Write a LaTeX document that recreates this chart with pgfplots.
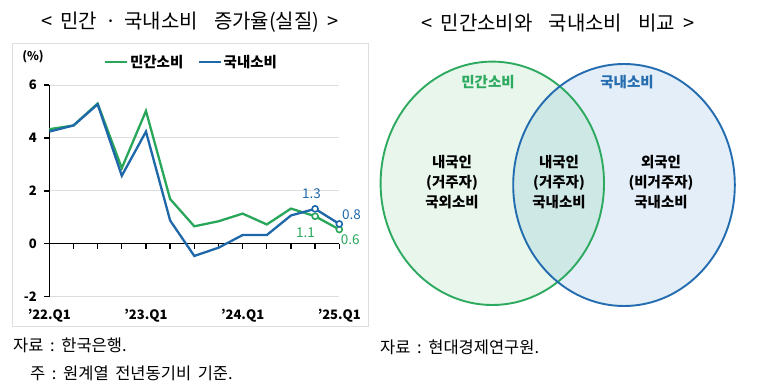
\documentclass[border=0pt]{standalone}
\usepackage{pgfplots}
\pgfplotsset{compat=1.18}
\usepackage{fontspec}
\setmainfont{Noto Sans CJK KR}
\definecolor{cgreen}{RGB}{40,166,90}
\definecolor{cblue}{RGB}{30,104,170}
\definecolor{vgreen}{RGB}{45,170,95}
\definecolor{vblue}{RGB}{35,108,175}
\definecolor{fleft}{RGB}{232,246,235}
\definecolor{fright}{RGB}{227,238,249}
\definecolor{fmid}{RGB}{206,232,230}
\definecolor{gridc}{RGB}{222,222,222}
\newcommand{\wsp}{\hspace{0.4em}}
\begin{document}
\begin{tikzpicture}[x=1pt,y=1pt]
\useasboundingbox (0,0) rectangle (760,388);
% titles and notes
\node[font=\fontsize{20}{22}\selectfont] at (190,366) {<\wsp 민간\wsp ·\wsp 국내소비\wsp\wsp 증가율(실질)\wsp >};
\node[font=\fontsize{20}{22}\selectfont] at (558,365) {<\wsp 민간소비와\wsp\wsp 국내소비\wsp\wsp 비교\wsp >};
\node[anchor=west,font=\fontsize{16.5}{18}\selectfont,inner sep=0pt] at (13,43) {자료\wsp :\wsp 한국은행.};
\node[anchor=west,font=\fontsize{16.5}{18}\selectfont,inner sep=0pt] at (30,15) {주\wsp :\wsp 원계열\wsp 전년동기비\wsp 기준.};
\node[anchor=west,font=\fontsize{16.5}{18}\selectfont,inner sep=0pt] at (380,41) {자료\wsp :\wsp 현대경제연구원.};
% frame
\draw[gridc,line width=1pt] (12.7,344) rectangle (368,61);
\node[font=\bfseries\fontsize{12}{14}\selectfont] at (33,331) {(\%)};
\begin{axis}[
  at={(49.3pt,91.3pt)}, anchor=south west,
  scale only axis, width=290pt, height=211.7pt,
  xmin=0, xmax=12, ymin=-2, ymax=6,
  axis y line*=left, axis x line*=bottom,
  x axis line style={draw=none},
  y axis line style={line width=1.3pt, black},
  xtick={0,4,8,12},
  xticklabels={'22.Q1,'23.Q1,'24.Q1,'25.Q1},
  major x tick style={draw=none},
  ytick={-2,0,2,4,6},
  ymajorgrids, grid style={gridc, line width=1pt},
  major y tick style={line width=1.3pt, black},
  tick align=outside, major tick length=5pt,
  /pgf/number format/assume math mode=true,
  ticklabel style={font=\bfseries\fontsize{13}{15}\selectfont},
  yticklabel style={xshift=-4pt},
  xticklabel style={yshift=-4pt},
  clip=false,
  legend style={draw=none, fill=none, at={(0.49,1.109)}, anchor=center,
    legend columns=2, font=\bfseries\fontsize{14.5}{16}\selectfont,
    /tikz/every even column/.append style={column sep=12pt}},
  legend image code/.code={\draw[#1,mark=none] (0pt,0pt) -- (22pt,0pt);},
]
\draw[black, line width=1.3pt] (axis cs:0,0) -- (axis cs:12,0);
\pgfplotsinvokeforeach{0,...,12}{\draw[black,line width=1.3pt] (axis cs:#1,0) -- ++(0pt,-5pt);}
\addplot[cgreen, line width=2.3pt, mark=*, mark indices={12,13}, mark size=3pt,
  mark options={fill=white, line width=1.6pt}] coordinates {
(0,4.33) (1,4.47) (2,5.30) (3,2.86) (4,5.02) (5,1.69) (6,0.66) (7,0.85) (8,1.14) (9,0.73) (10,1.33) (11,1.04) (12,0.54)};
\addlegendentry{민간소비}
\addplot[cblue, line width=2.3pt, mark=*, mark indices={12,13}, mark size=3pt,
  mark options={fill=white, line width=1.6pt}] coordinates {
(0,4.24) (1,4.47) (2,5.27) (3,2.57) (4,4.24) (5,0.88) (6,-0.46) (7,-0.15) (8,0.33) (9,0.33) (10,1.07) (11,1.32) (12,0.75)};
\addlegendentry{국내소비}
\node[cblue, font=\fontsize{13.5}{15}\selectfont] at (axis cs:10.85,1.88) {1.3};
\node[cblue, font=\fontsize{13.5}{15}\selectfont] at (axis cs:12.5,1.10) {0.8};
\node[cgreen, font=\fontsize{13.5}{15}\selectfont] at (axis cs:10.6,0.42) {1.1};
\node[cgreen, font=\fontsize{13.5}{15}\selectfont] at (axis cs:12.45,0.15) {0.6};
\end{axis}
% Venn diagram
\begin{axis}[
  at={(0pt,0pt)}, anchor=south west, scale only axis,
  width=760pt, height=388pt, xmin=0, xmax=760, ymin=0, ymax=388,
  hide axis, clip=false]
\fill[fleft] (axis cs:492.3,204.7) ellipse [x radius=111.7, y radius=121.7];
\fill[fright] (axis cs:624,203) ellipse [x radius=110.8, y radius=121];
\begin{scope}
\clip (axis cs:492.3,204.7) ellipse [x radius=111.7, y radius=121.7];
\fill[fmid] (axis cs:624,203) ellipse [x radius=110.8, y radius=121];
\end{scope}
\draw[vgreen, line width=1.9pt] (axis cs:492.3,204.7) ellipse [x radius=111.7, y radius=121.7];
\draw[vblue, line width=1.9pt] (axis cs:624,203) ellipse [x radius=110.8, y radius=121];
\node[vgreen, font=\bfseries\fontsize{14.5}{16}\selectfont] at (axis cs:488,306) {민간소비};
\node[vblue, font=\bfseries\fontsize{14.5}{16}\selectfont] at (axis cs:627,306) {국내소비};
\node[font=\bfseries\fontsize{14.5}{16}\selectfont, align=center] at (axis cs:452,206) {내국인\\[4pt](거주자)\\[4pt]국외소비};
\node[font=\bfseries\fontsize{14.5}{16}\selectfont, align=center] at (axis cs:559,206) {내국인\\[4pt](거주자)\\[4pt]국내소비};
\node[font=\bfseries\fontsize{14.5}{16}\selectfont, align=center] at (axis cs:661,206) {외국인\\[4pt](비거주자)\\[4pt]국내소비};
\end{axis}
\end{tikzpicture}
\end{document}
